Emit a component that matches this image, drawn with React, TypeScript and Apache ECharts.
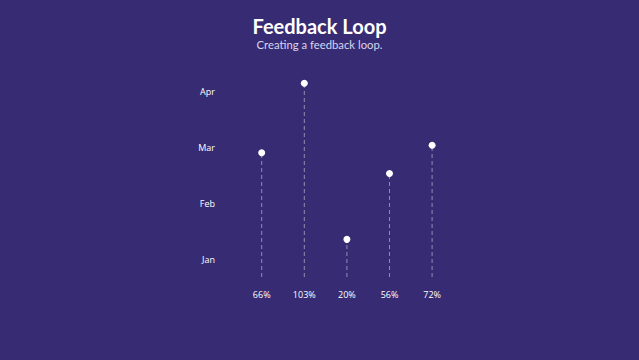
import React, { useEffect, useRef } from "react";
import * as echarts from "echarts";

const categories = ["66%", "103%", "20%", "56%", "72%"];
const values = [66, 103, 20, 55, 70];
const months = ["Jan", "Feb", "Mar", "Apr"];
const titleText = "Feedback Loop";
const subtitleText = "Creating a feedback loop.";

const BG = "#372c73";
const FONT = "Open Sans";

export default function App() {
  const ref = useRef<HTMLDivElement>(null);
  useEffect(() => {
    if (!ref.current) return;
    const chart = echarts.init(ref.current, undefined, { renderer: "svg" });
    chart.setOption({
      animation: false,
      backgroundColor: BG,
      graphic: [
        {
          type: "text",
          x: 319.5,
          y: 26,
          style: {
            text: titleText,
            fill: "#ffffff",
            font: "bold 20px Lato, sans-serif",
            textAlign: "center",
            textVerticalAlign: "middle",
          },
        },
        {
          type: "text",
          x: 319.5,
          y: 44,
          style: {
            text: subtitleText,
            fill: "#d8d5ee",
            font: "11.3px Lato, sans-serif",
            textAlign: "center",
            textVerticalAlign: "middle",
          },
        },
      ],
      grid: [
        { left: 240.4, width: 213, top: 70, height: 207 },
        { left: 223, width: 10, top: 91, height: 168 },
      ],
      xAxis: [
        {
          type: "category",
          gridIndex: 0,
          data: categories,
          axisLine: { show: false },
          axisTick: { show: false },
          axisLabel: { color: "#ffffff", fontSize: 9, margin: 13, fontFamily: FONT },
        },
        { type: "value", gridIndex: 1, show: false },
      ],
      yAxis: [
        { type: "value", gridIndex: 0, min: 0, max: 110, show: false },
        {
          type: "category",
          gridIndex: 1,
          data: months,
          boundaryGap: false,
          axisLine: { show: false },
          axisTick: { show: false },
          splitLine: { show: false },
          axisLabel: { color: "#ffffff", fontSize: 9, margin: 8, fontFamily: FONT },
        },
      ],
      series: [
        {
          type: "custom",
          xAxisIndex: 0,
          yAxisIndex: 0,
          data: values.map((v, i) => [i, v]),
          renderItem: (params: any, api: any) => {
            const idx = api.value(0);
            const top = api.coord([idx, api.value(1)]);
            const base = api.coord([idx, 0]);
            return {
              type: "group",
              children: [
                {
                  type: "line",
                  shape: { x1: base[0], y1: base[1], x2: top[0], y2: top[1] },
                  style: { stroke: "rgba(255,255,255,0.45)", lineWidth: 1, lineDash: [4, 3] },
                },
                {
                  type: "circle",
                  shape: { cx: top[0], cy: top[1], r: 3.5 },
                  style: { fill: "#ffffff" },
                },
              ],
            };
          },
        },
      ],
    });
    return () => chart.dispose();
  }, []);
  return <div ref={ref} style={{ width: 639, height: 360, position: "fixed", left: 0, top: 0 }} />;
}
